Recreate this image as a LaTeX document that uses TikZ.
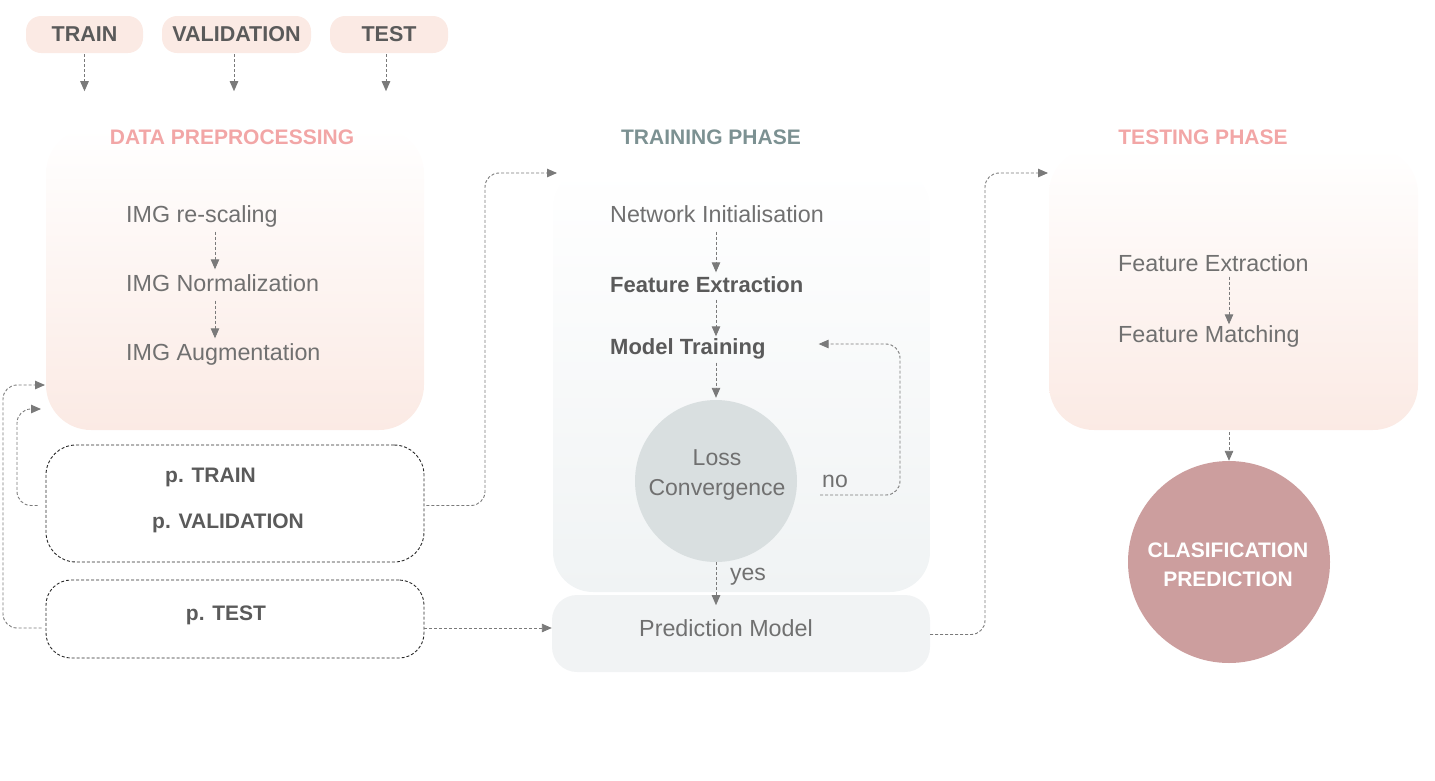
\documentclass[tikz,border=0pt]{standalone}
\usepackage{fontspec}
\setmainfont{Liberation Sans}
\usetikzlibrary{arrows.meta,calc}
\definecolor{peach}{HTML}{FBEAE4}
\definecolor{peachmid}{HTML}{FCF0EC}
\definecolor{pinktitle}{HTML}{F2A6A6}
\definecolor{graytitle}{HTML}{7C9192}
\definecolor{trgray}{HTML}{F0F3F4}
\definecolor{trmid}{HTML}{F5F7F8}
\definecolor{pmgray}{HTML}{F1F3F4}
\definecolor{lossgray}{HTML}{D9DFE0}
\definecolor{clsrose}{HTML}{CC9E9E}
\definecolor{txtgray}{HTML}{707070}
\definecolor{txtdark}{HTML}{5A5A5A}
\definecolor{arrgray}{HTML}{7A7A7A}
\definecolor{dashblack}{HTML}{2A2A2A}
\begin{document}
\begin{tikzpicture}[x=1pt,y=-1pt,
  pill/.style={rectangle, rounded corners=15pt, fill=peach, minimum height=37pt,
    font=\fontsize{21.5}{25}\selectfont\bfseries, text=txtdark, inner sep=0pt},
  arr/.style={draw=arrgray, line width=0.9pt, dash pattern=on 3pt off 2pt,
    -{Triangle[length=10pt,width=8.5pt]}},
  conn/.style={arr, rounded corners=14pt},
  dbox/.style={rectangle, draw=dashblack, dash pattern=on 3pt off 2pt, line width=0.9pt,
    minimum width=378pt, inner sep=0pt},
  txt/.style={anchor=west, inner sep=0pt, text height=16pt, text depth=5pt,
    font=\fontsize{23.3}{27}\selectfont, text=txtgray},
  btxt/.style={anchor=west, inner sep=0pt, text height=16pt, text depth=5pt,
    font=\fontsize{22}{26}\selectfont\bfseries, text=txtdark},
  ctxt/.style={inner sep=0pt, font=\fontsize{21}{25}\selectfont\bfseries, text=txtdark},
  title/.style={inner sep=0pt, font=\fontsize{21}{25}\selectfont\bfseries}
]
\useasboundingbox (0,0) rectangle (1435,780);

% pills
\node[pill, minimum width=117pt] (ptrain) at (84.5,34.5) {TRAIN};
\node[pill, minimum width=149pt] (pval) at (236.5,34.5) {VALIDATION};
\node[pill, minimum width=118pt] (ptest) at (389,34.5) {TEST};

% big boxes
\node[rectangle, rounded corners=45pt, minimum width=378pt, minimum height=302pt,
  top color=white, middle color=peachmid, bottom color=peach, inner sep=0pt] (dp) at (235,279) {};
\node[rectangle, rounded corners=40pt, minimum width=377pt, minimum height=425pt,
  top color=white, middle color=trmid, bottom color=trgray, inner sep=0pt] (tr) at (741.5,379.5) {};
\node[rectangle, rounded corners=25pt, minimum width=378pt, minimum height=77pt,
  fill=pmgray, inner sep=0pt] (pm) at (741,633.5) {};
\node[rectangle, rounded corners=45pt, minimum width=369pt, minimum height=282pt,
  top color=white, middle color=peachmid, bottom color=peach, inner sep=0pt] (ts) at (1233.5,289) {};

% dashed boxes
\node[dbox, rounded corners=30pt, minimum height=117pt] (ptv) at (235,503.5) {};
\node[dbox, rounded corners=25pt, minimum height=78pt] (pt) at (235,619) {};

% titles
\node[title, text=pinktitle] (t1) at (232,137) {DATA PREPROCESSING};
\node[title, text=graytitle] (t2) at (711,137) {TRAINING PHASE};
\node[title, text=pinktitle] (t3) at (1203,137) {TESTING PHASE};

% data preprocessing texts
\node[txt] (resc) at (126,217) {IMG re-scaling};
\node[txt] (norm) at (126,286) {IMG Normalization};
\node[txt] (aug) at (126,355) {IMG Augmentation};

% partition texts
\node[ctxt] (ptr) at (210.5,477) {p. TRAIN};
\node[ctxt] (pva) at (228,523) {p. VALIDATION};
\node[ctxt] (pte) at (226,615) {p. TEST};

% training texts
\node[txt] (ni) at (610,217) {Network Initialisation};
\node[btxt] (fe) at (610,287) {Feature Extraction};
\node[btxt] (mt) at (610,349) {Model Training};
\node[circle, fill=lossgray, minimum size=162pt, inner sep=0pt] (loss) at (716,481) {};
\node[inner sep=0pt, align=center, font=\fontsize{23}{30}\selectfont, text=txtgray]
  (losst) at (717,475) {Loss\\Convergence};
\node[inner sep=0pt, font=\fontsize{23}{27}\selectfont, text=txtgray] (no) at (835,481) {no};
\node[inner sep=0pt, font=\fontsize{23}{27}\selectfont, text=txtgray] (yes) at (748,577) {yes};
\node[inner sep=0pt, font=\fontsize{23.3}{27}\selectfont, text=txtgray] (pmt) at (726,628) {Prediction Model};

% testing texts
\node[txt] (tfe) at (1118,266) {Feature Extraction};
\node[txt] (tfm) at (1118,337) {Feature Matching};
\node[circle, fill=clsrose, minimum size=202pt, inner sep=0pt] (cls) at (1229,562) {};
\node[inner sep=0pt, align=center, font=\fontsize{21}{29}\selectfont\bfseries, text=white]
  (clst) at (1228,565) {CLASIFICATION\\PREDICTION};

% column coordinates
\coordinate (cdp) at (215,0);
\coordinate (ctr) at (716,0);
\coordinate (cts) at (1229,0);
\coordinate (lx1) at (17,0);
\coordinate (lx2) at (3,0);
\coordinate (mx1) at (485,0);
\coordinate (mx2) at (985,0);
\coordinate (lx3) at (900,0);
\coordinate (dpin1) at (45,385);
\coordinate (dpin2) at (41,409);
\coordinate (trin) at (557,173);
\coordinate (tsin) at (1048,173);
\coordinate (noout) at ($(loss.east)+(23,14)$);
\coordinate (mtin) at ($(mt.east)+(53,-5)$);
\coordinate (ptout) at ($(pt.east)+(0,9)$);
\coordinate (ptvout) at ($(ptv.east)+(2,2)$);
\coordinate (ptvleft) at ($(ptv.west)+(-8,2)$);
\coordinate (ptleft) at ($(pt.west)+(-4,9)$);

% pill arrows
\draw[arr] ([yshift=-1pt]ptrain.south) -- ++(0,37);
\draw[arr] ([yshift=-1pt]pval.south -| 234,0) -- ++(0,37);
\draw[arr] ([yshift=-1pt]ptest.south -| 386,0) -- ++(0,37);

% data preprocessing arrows
\draw[arr, shorten <=4pt, shorten >=6pt] (resc.south -| cdp) -- (norm.north -| cdp);
\draw[arr, shorten <=4pt, shorten >=6pt] (norm.south -| cdp) -- (aug.north -| cdp);

% training arrows
\draw[arr, shorten <=4pt, shorten >=4pt] (ni.south -| ctr) -- (fe.north -| ctr);
\draw[arr, shorten <=2pt, shorten >=2pt] (fe.south -| ctr) -- (mt.north -| ctr);
\draw[arr, shorten <=3pt, shorten >=2pt] (mt.south -| ctr) -- (loss.north);
\draw[arr] (loss.south) -- ++(0,43);
\draw[conn] (noout) -| (lx3 |- mtin) -- (mtin);

% testing arrows
\draw[arr, shorten <=0pt, shorten >=2pt] (tfe.south -| cts) -- (tfm.north -| cts);
\draw[arr] ([yshift=-2pt]ts.south -| cls) -- (cls.north);

% connectors between phases
\draw[conn] (ptvleft) -| (lx1 |- dpin2) -- (dpin2);
\draw[conn] (ptleft) -| (lx2 |- dpin1) -- (dpin1);
\draw[conn] (ptvout) -| (mx1 |- trin) -- (trin);
\draw[arr] (ptout) -- (ptout -| pm.west);
\draw[conn] ([yshift=-1pt]pm.east) -| (mx2 |- tsin) -- (tsin);
\end{tikzpicture}
\end{document}
